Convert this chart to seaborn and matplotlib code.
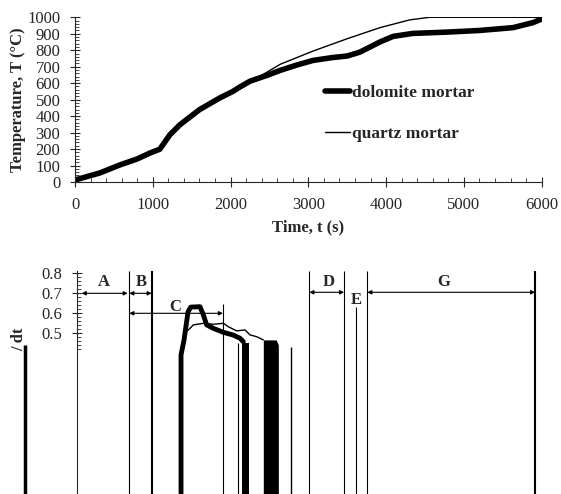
import numpy as np
import pandas as pd
import matplotlib
matplotlib.use("Agg")
import matplotlib.pyplot as plt
import seaborn as sns
from matplotlib.ticker import MultipleLocator, FixedLocator, FormatStrFormatter

# Temperature curves (upper panel)
dolomite_t = [0, 320, 580, 800, 960, 1090, 1220, 1350, 1600, 1860, 2030, 2120, 2250, 2460,
              2640, 2850, 3060, 3300, 3500, 3660, 3920, 4090, 4340, 4780, 5200, 5630, 5890, 6000]
dolomite_T = [12, 55, 104, 140, 175, 199, 287, 348, 439, 510, 550, 577, 612, 646,
              678, 710, 738, 755, 765, 788, 850, 884, 902, 910, 920, 937, 968, 990]
quartz_t = [0, 320, 580, 800, 960, 1090, 1220, 1350, 1600, 1860, 2030, 2120, 2250, 2400,
            2640, 3060, 3500, 3920, 4300, 4560, 6000]
quartz_T = [12, 55, 104, 140, 175, 199, 287, 348, 439, 510, 550, 577, 612, 648,
            715, 795, 870, 937, 984, 1000, 1000]

# dT/dt panel (lower)
dol_rate_t = [1337, 1337, 1376, 1427, 1462, 1581, 1624, 1667, 1752, 1881, 2010, 2096, 2138]
dol_rate_v = [-0.30, 0.392, 0.467, 0.607, 0.631, 0.633, 0.592, 0.542, 0.525, 0.505, 0.491, 0.475, 0.458]
qtz_rate_t = [1401, 1453, 1495, 1624, 1752, 1881, 1945, 2053, 2160, 2224, 2310, 2395]
qtz_rate_v = [0.507, 0.525, 0.542, 0.550, 0.545, 0.550, 0.533, 0.512, 0.517, 0.492, 0.483, 0.467]
bar1_t = [2117, 2211]
bar1_v = [0.453, 0.453]
bar2_t = [2395, 2560, 2588]
bar2_v = [0.467, 0.467, 0.442]

# phase boundary lines: time, top value, width
bound_t = [669, 968, 1881, 2066, 2748, 2987, 3437, 3583, 3732, 5889]
bound_top = [0.81, 0.81, 0.647, 0.45, 0.433, 0.81, 0.81, 0.633, 0.81, 0.81]
bound_lw = [0.8, 1.5, 0.8, 0.8, 1.0, 0.8, 0.8, 0.8, 0.8, 1.5]

# stage arrows and letters
stage_names = ["A", "B", "C", "D", "G"]
stage_start = [60, 672, 672, 2987, 3732]
stage_end = [652, 960, 1876, 3433, 5889]
stage_level = [0.70, 0.70, 0.60, 0.705, 0.705]
letter_names = ["A", "B", "C", "D", "E", "G"]
letter_t = [347, 832, 1260, 3231, 3587, 4710]
letter_v = [0.755, 0.756, 0.633, 0.755, 0.667, 0.756]

sns.set_style("ticks")
plt.rcParams['font.family'] = ['Liberation Serif', 'DejaVu Serif']
plt.rcParams['axes.linewidth'] = 0.8

fig = plt.figure(figsize=(5.61, 4.94), dpi=100)

# ---- upper panel
ax = fig.add_axes([0.1337, 0.6316, 0.8319, 0.3334])
sns.lineplot(x=dolomite_t, y=dolomite_T, ax=ax, color="black", lw=4, label="dolomite mortar",
             sort=False, estimator=None)
sns.lineplot(x=quartz_t, y=quartz_T, ax=ax, color="black", lw=1, label="quartz mortar",
             sort=False, estimator=None)
ax.set_xlim(0, 6000)
ax.set_ylim(0, 1000)
ax.xaxis.set_major_locator(MultipleLocator(1000))
ax.xaxis.set_minor_locator(MultipleLocator(200))
ax.yaxis.set_major_locator(MultipleLocator(100))
ax.yaxis.set_minor_locator(MultipleLocator(20))
ax.tick_params(which="major", direction="inout", length=7, width=0.8, labelsize=12, pad=7)
ax.tick_params(which="minor", direction="in", length=3, width=0.6)
sns.despine(ax=ax)
ax.set_xlabel("Time, t (s)", fontsize=12, fontweight="bold", labelpad=5)
ax.set_ylabel("Temperature, T (°C)", fontsize=12, fontweight="bold", labelpad=1)
ax.legend(loc="upper left", bbox_to_anchor=(0.536, 0.59), frameon=False, borderpad=0,
          borderaxespad=0, handlelength=1.45, handletextpad=0.12, labelspacing=1.45,
          prop={"weight": "bold", "size": 12.5})

# ---- lower panel
ax2 = fig.add_axes([0.1373, 0.0, 0.8319, 0.4508])
ax2.set_xlim(0, 6000)
ax2.set_ylim(-0.3035, 0.81)
ax2.vlines(bound_t, -0.3035, bound_top, colors="black", linewidths=bound_lw)
ax2.fill_between(bar1_t, -0.3035, bar1_v, color="black", lw=0)
ax2.fill_between(bar2_t, -0.3035, bar2_v, color="black", lw=0)
sns.lineplot(x=dol_rate_t, y=dol_rate_v, ax=ax2, color="black", lw=3.5, sort=False, estimator=None)
sns.lineplot(x=qtz_rate_t, y=qtz_rate_v, ax=ax2, color="black", lw=1, sort=False, estimator=None)

# thick stub and clipped label left of the axis
ax2.vlines([-669], -0.3035, 0.44, colors="black", linewidths=2.5, clip_on=False)
ax2.text(-740, 0.41, "/ dt", rotation=90, ha="center", va="bottom", fontsize=12,
         fontweight="bold")

for s, e, lv in zip(stage_start, stage_end, stage_level):
    ax2.annotate("", xy=(e, lv), xytext=(s, lv),
                 arrowprops=dict(arrowstyle="<|-|>", lw=0.8, color="black",
                                 shrinkA=0, shrinkB=0, mutation_scale=6))
for name, t, v in zip(letter_names, letter_t, letter_v):
    ax2.text(t, v, name, ha="center", va="center", fontsize=12, fontweight="bold")

ax2.set_yticks([0.5, 0.6, 0.7, 0.8])
ax2.yaxis.set_major_formatter(FormatStrFormatter("%.1f"))
ax2.yaxis.set_minor_locator(FixedLocator(np.arange(0.42, 0.81, 0.02)))
ax2.tick_params(which="major", direction="inout", length=7, width=0.8, labelsize=12, pad=7)
ax2.tick_params(which="minor", direction="in", length=3, width=0.6)
ax2.set_xticks([])
for side in ["top", "right", "bottom"]:
    ax2.spines[side].set_visible(False)
ax2.set_xlabel("")
ax2.set_ylabel("")

fig.savefig("out.png", dpi=100)
